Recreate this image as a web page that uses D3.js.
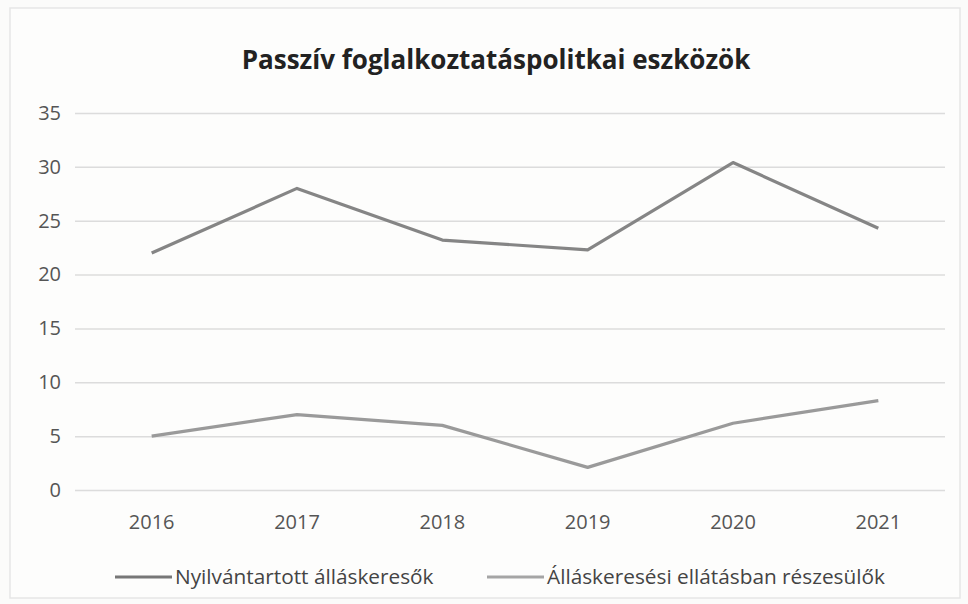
<!DOCTYPE html>
<html><head><meta charset="utf-8">
<script src="https://cdn.jsdelivr.net/npm/d3@7"></script>
<style>body{margin:0;background:#fbfbfa;}svg{display:block;}</style>
</head><body>
<svg id="c" width="968" height="604"></svg>
<script>
const title = "Passzív foglalkoztatáspolitkai eszközök";
const years = ["2016","2017","2018","2019","2020","2021"];
const seriesNames = ["Nyilvántartott álláskeresők","Álláskeresési ellátásban részesülők"];
const registered = [22, 28, 23.2, 22.3, 30.4, 24.3];
const benefit = [5, 7, 6, 2.1, 6.2, 8.3];
const yTicks = [0,5,10,15,20,25,30,35];
const colors = ["#858585","#9a9a9a"];

const svg = d3.select("#c");
svg.append("rect").attr("x",10).attr("y",8).attr("width",950).attr("height",590)
  .attr("fill","#fdfdfc").attr("stroke","#e6e6e6").attr("stroke-width",1.5);

const x = d3.scaleBand().domain(years).range([79,951]);
const y = d3.scaleLinear().domain([0,35]).range([490,113]);

svg.append("text").attr("x",496).attr("y",69).attr("text-anchor","middle")
  .attr("font-family","Open Sans, sans-serif").attr("font-weight","bold")
  .attr("font-size",26).attr("fill","#222").text(title);

const gy = svg.append("g").attr("transform","translate(75,0)")
  .call(d3.axisLeft(y).tickValues(yTicks).tickSize(-870).tickPadding(14));
gy.select(".domain").remove();
gy.selectAll(".tick line").attr("stroke","#dcdcdc").attr("stroke-width",1.5);
gy.selectAll(".tick text").attr("font-family","Open Sans, sans-serif").attr("font-size",20).attr("fill","#555");

const gx = svg.append("g").attr("transform","translate(0,490)")
  .call(d3.axisBottom(x).tickSize(0).tickPadding(25));
gx.select(".domain").remove();
gx.selectAll(".tick text").attr("font-family","Open Sans, sans-serif").attr("font-size",20).attr("fill","#555");

const line = d3.line().x((d,i)=>x(years[i])+x.bandwidth()/2).y(d=>y(d));
[registered, benefit].forEach((s,k)=>{
  svg.append("path").datum(s).attr("d",line).attr("fill","none")
    .attr("stroke",colors[k]).attr("stroke-width",3.2).attr("stroke-linejoin","round");
});

const legX = [115, 487];
seriesNames.forEach((n,k)=>{
  const g = svg.append("g").attr("transform",`translate(${legX[k]},577)`);
  g.append("line").attr("x1",0).attr("x2",57).attr("y1",0).attr("y2",0)
    .attr("stroke",k===0?"#777":"#a5a5a5").attr("stroke-width",3);
  g.append("text").attr("x",60).attr("y",7).attr("font-family","Open Sans, sans-serif")
    .attr("font-size",20.8).attr("fill","#444").text(n);
});
</script>
</body></html>
